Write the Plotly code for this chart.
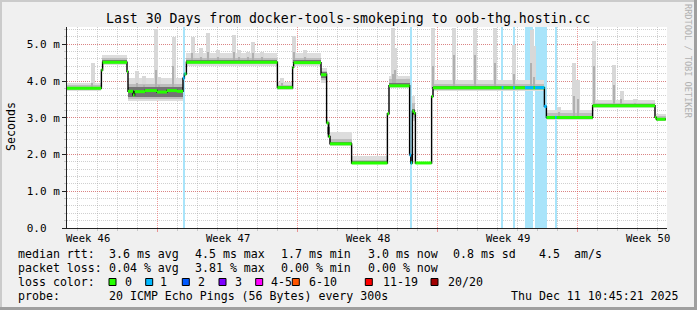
import plotly.graph_objects as go

# ---------------- data ----------------
# time = days since window start (Tue Nov 11 10:45:21 2025); values in ms (axis shows "m" = milli-seconds)
med_t = [0.00, 1.72, 1.78, 3.00, 3.05, 3.30, 3.38, 3.90, 4.50, 5.00, 5.50, 5.80, 5.87, 5.97,
         10.52, 11.28, 11.33, 12.70, 12.98, 13.08, 13.15, 14.23, 16.02, 16.10, 17.13, 17.19,
         17.27, 17.35, 17.42, 18.23, 18.30, 23.87, 23.97, 26.28, 29.40, 29.47]
med_v = [3.80, 4.30, 4.51, 4.26, 3.72, 3.62, 3.71, 3.74, 3.70, 3.74, 3.72, 4.08, 4.19, 4.51,
         3.82, 4.37, 4.50, 4.17, 2.86, 2.49, 2.29, 1.77, 3.11, 3.87, 1.99, 1.77,
         3.18, 3.13, 1.77, 3.58, 3.82, 3.31, 3.01, 3.33, 3.01, 2.96]
med_loss = [0, 0, 0, 0, 0, 0, 0, 0, 0, 0, 0, 1, 0, 0,
            0, 0, 0, 0, 0, 0, 0, 0, 0, 0, 1, 0,
            0, 0, 0, 0, 0, 1, 0, 0, 0, 0]
med_end = 29.93

loss_t0 = [5.82, 17.15, 21.73, 22.30, 22.90, 23.40, 24.40]
loss_t1 = [5.92, 17.25, 21.82, 22.40, 23.32, 23.98, 24.48]

smk_t0 = [0.00, 1.75, 3.05, 5.97, 10.55, 11.30, 12.70, 12.98, 13.15, 14.25, 16.10, 17.27, 18.30, 23.97, 26.28, 29.47]
smk_t1 = [1.72, 3.00, 5.80, 10.52, 11.28, 12.70, 12.98, 13.15, 14.23, 16.02, 17.13, 17.42, 23.87, 26.28, 29.40, 29.93]
light_lo = [3.74, 4.44, 3.45, 4.42, 3.75, 4.42, 3.95, 2.45, 2.24, 1.73, 3.80, 2.90, 3.72, 2.94, 3.27, 2.90]
light_hi = [3.95, 4.72, 4.08, 4.75, 3.98, 4.75, 4.35, 2.95, 2.60, 1.95, 4.15, 3.60, 4.02, 3.22, 3.47, 3.10]
mid_lo = [3.76, 4.46, 3.50, 4.45, 3.77, 4.45, 4.02, 2.50, 2.26, 1.75, 3.83, 3.00, 3.75, 2.96, 3.29, 2.92]
mid_hi = [3.88, 4.62, 3.92, 4.62, 3.90, 4.62, 4.28, 2.85, 2.42, 1.86, 4.05, 3.40, 3.92, 3.12, 3.40, 3.04]
dark_lo = [3.78, 4.48, 3.56, 4.48, 3.79, 4.48, 4.08, 2.55, 2.27, 1.76, 3.85, 3.08, 3.78, 2.98, 3.30, 2.93]
dark_hi = [3.84, 4.56, 3.84, 4.56, 3.86, 4.56, 4.24, 2.75, 2.35, 1.82, 3.95, 3.25, 3.87, 3.06, 3.37, 3.00]

spk_t = [1.28, 3.50, 3.85, 4.44, 4.62, 5.33, 6.28, 6.70, 7.07, 7.57, 8.34, 8.60, 9.07, 9.32, 9.74,
         10.75, 11.35, 11.90, 16.30, 16.42, 17.07, 18.32, 19.35, 20.40, 21.40, 22.35, 23.23, 23.35,
         24.60, 25.35, 25.57, 26.35, 27.35, 27.73, 28.40]
spk_top = [4.49, 4.26, 4.15, 5.42, 4.10, 5.21, 5.21, 4.90, 5.30, 4.85, 5.25, 4.85, 4.80, 5.07, 4.80,
           4.08, 5.23, 4.85, 5.44, 4.90, 4.08, 5.44, 5.44, 5.44, 5.44, 4.99, 5.39, 4.94,
           3.30, 4.49, 4.03, 5.08, 4.44, 3.72, 3.50]
spk_core = [3.95, 3.95, 3.90, 4.30, 3.90, 4.40, 4.75, 4.65, 4.80, 4.65, 4.80, 4.65, 4.65, 4.75, 4.65,
            3.95, 4.80, 4.65, 4.20, 4.30, 3.95, 4.40, 4.70, 4.70, 4.50, 4.20, 4.50, 4.10,
            3.15, 3.60, 3.50, 4.40, 3.90, 3.50, 3.40]

y_tick_vals = [0, 1, 2, 3, 4, 5]
y_tick_text = ["0.0\u00a0\u00a0", "1.0 m", "2.0 m", "3.0 m", "4.0 m", "5.0 m"]
week_labels = ["Week 46", "Week 47", "Week 48", "Week 49", "Week 50"]
week_pos = [1.045, 8.045, 15.045, 22.045, 29.045]
day_grid_start = 0.535
week_grid_start = 4.535

loss_names = ["0", "1", "2", "3", "4-5", "6-10", "11-19", "20/20"]
loss_colors = ["#26ff00", "#00b8ff", "#0059ff", "#7e00ff", "#ff00ff", "#ff5500", "#ff0000", "#a10000"]

title = "Last 30 Days from docker-tools-smokeping to oob-thg.hostin.cc"
row1 = ["median rtt:", "3.6 ms avg", "4.5 ms max", "1.7 ms min", "3.0 ms now", "0.8 ms sd", "4.5", "am/s"]
row2 = ["packet loss:", "0.04 % avg", "3.81 % max", "0.00 % min", "0.00 % now"]
row4 = ["probe:", "20 ICMP Echo Pings (56 Bytes) every 300s"]
stamp = "Thu Dec 11 10:45:21 2025"

# ---------------- layout constants ----------------
W, H = 697, 310
ML, MR, MT, MB = 67, 30, 27, 82
PW, PH = W - ML - MR, H - MT - MB
YMAX = 5.47
XMAX = 30.0
MONO = "DejaVu Sans Mono"
LOSS_BG = "#a8e4fa"


def px(x):
    return (x - ML) / PW


def py(y):
    return (MT + PH - y) / PH


def med_at(t):
    v = med_v[0]
    for tt, vv in zip(med_t, med_v):
        if tt <= t:
            v = vv
    return v


fig = go.Figure()


def add_bars(t0, t1, lo, hi, color):
    fig.add_trace(go.Bar(
        x=[(a + b) / 2 for a, b in zip(t0, t1)],
        width=[b - a for a, b in zip(t0, t1)],
        base=lo,
        y=[h - l for l, h in zip(lo, hi)],
        marker=dict(color=color, line=dict(width=0)),
        hoverinfo="skip", showlegend=False))


# loss background bands
add_bars(loss_t0, loss_t1, [0] * len(loss_t0), [YMAX] * len(loss_t0), LOSS_BG)

# smoke
add_bars(smk_t0, smk_t1, light_lo, light_hi, "#dddddd")
add_bars([t - 0.1 for t in spk_t], [t + 0.1 for t in spk_t], [med_at(t) for t in spk_t], spk_top, "#d8d8d8")
add_bars(smk_t0, smk_t1, mid_lo, mid_hi, "#bdbdbd")
add_bars([t - 0.04 for t in spk_t], [t + 0.04 for t in spk_t], [med_at(t) for t in spk_t], spk_core, "#b0b0b0")
add_bars(smk_t0, smk_t1, dark_lo, dark_hi, "#747474")

# black connecting median line
fig.add_trace(go.Scatter(x=med_t + [med_end], y=med_v + [med_v[-1]], mode="lines",
                         line=dict(color="#000000", width=1.4, shape="hv"),
                         hoverinfo="skip", showlegend=False))

# coloured median segments
ends = med_t[1:] + [med_end]
for flag, col in [(0, loss_colors[0]), (1, loss_colors[1])]:
    xs, ys = [], []
    for t0, t1, v, f in zip(med_t, ends, med_v, med_loss):
        if f == flag:
            xs += [t0, t1, None]
            ys += [v, v, None]
    if flag == 1:
        for b0, b1 in zip(loss_t0, loss_t1):
            cuts = [b0] + [t for t in med_t if b0 < t < b1] + [min(b1, med_end)]
            for a, b in zip(cuts[:-1], cuts[1:]):
                xs += [a, b, None]
                ys += [med_at(a), med_at(a), None]
    fig.add_trace(go.Scatter(x=xs, y=ys, mode="lines", line=dict(color=col, width=3),
                             hoverinfo="skip", showlegend=False))

grid_grey = "rgba(150,150,150,0.45)"
grid_red = "rgba(225,70,70,0.55)"

fig.update_layout(
    width=W, height=H, margin=dict(l=ML, r=MR, t=MT, b=MB, pad=0),
    paper_bgcolor="#f0f0f0", plot_bgcolor="#ffffff",
    barmode="overlay", bargap=0, showlegend=False,
    font=dict(family=MONO, color="#000000"),
    xaxis=dict(range=[0, XMAX], tickmode="linear", tick0=week_grid_start, dtick=7,
               showgrid=True, gridcolor=grid_red, griddash="1px,1px", gridwidth=1,
               showticklabels=False, ticks="outside", ticklen=3, tickcolor=grid_red,
               showline=True, linecolor="#222222", linewidth=1, zeroline=False, fixedrange=True,
               minor=dict(tick0=day_grid_start, dtick=1, showgrid=True, gridcolor=grid_grey,
                          griddash="1px,1px", ticks="outside", ticklen=2, tickcolor=grid_grey)),
    yaxis=dict(range=[0, YMAX], tickmode="array", tickvals=y_tick_vals, ticktext=y_tick_text,
               showgrid=True, gridcolor=grid_red, griddash="1px,1px", gridwidth=1,
               ticks="outside", ticklen=4, tickcolor="#222222",
               tickfont=dict(family=MONO, size=11, color="#000000"),
               showline=True, linecolor="#222222", linewidth=1, zeroline=False, fixedrange=True,
               minor=dict(tick0=0, dtick=0.2, showgrid=True, gridcolor=grid_grey,
                          griddash="1px,1px", ticks="outside", ticklen=2, tickcolor=grid_grey)),
)

shapes = []
# axis arrows
shapes.append(dict(type="path", xref="x", yref="y", xsizemode="pixel", ysizemode="pixel",
                   xanchor=0, yanchor=YMAX, path="M-3,0 L3,0 L0,5 Z",
                   fillcolor="#8b1a1a", line=dict(width=0), layer="above"))
shapes.append(dict(type="path", xref="x", yref="y", xsizemode="pixel", ysizemode="pixel",
                   xanchor=XMAX, yanchor=0, path="M0,-3 L0,3 L6,0 Z",
                   fillcolor="#8b1a1a", line=dict(width=0), layer="above"))
# image frame
frame = [(0, 0, 2, H, "#cbcbcb"), (0, 0, W, 2, "#cbcbcb"),
         (W - 3, 0, W, H, "#9f9f9f"), (0, H - 3, W, H, "#9f9f9f")]
for x0, y0, x1, y1, c in frame:
    shapes.append(dict(type="rect", xref="paper", yref="paper", x0=px(x0), x1=px(x1),
                       y0=py(y0), y1=py(y1), fillcolor=c, line=dict(width=0), layer="above"))
# loss colour swatches
box_x = [109, 145.7, 182.3, 219, 255.7, 292.3, 365.3, 431]
lab_x = [122.5, 158.3, 196, 233.3, 269.3, 306.7, 380.7, 445.7]
for bx, c in zip(box_x, loss_colors):
    shapes.append(dict(type="rect", xref="paper", yref="paper", x0=px(bx), x1=px(bx + 7),
                       y0=py(278.5), y1=py(285.5), fillcolor=c,
                       line=dict(color="#000000", width=1), layer="above"))
fig.update_layout(shapes=shapes)

ann = []
ann.append(dict(text=title, x=px(348), y=py(19), xref="paper", yref="paper",
                xanchor="center", yanchor="middle", showarrow=False,
                font=dict(family=MONO, size=13.2, color="#000000")))
ann.append(dict(text="Seconds", x=px(11), y=py(127), xref="paper", yref="paper",
                xanchor="center", yanchor="middle", showarrow=False, textangle=-90,
                font=dict(family=MONO, size=11.6, color="#000000")))
ann.append(dict(text="RRDTOOL / TOBI OETIKER", x=px(688), y=py(61), xref="paper", yref="paper",
                xanchor="center", yanchor="middle", showarrow=False, textangle=90,
                font=dict(family=MONO, size=8.6, color="#b0b0b0")))
for lab, pos in zip(week_labels, week_pos):
    ann.append(dict(text=lab, x=pos, y=py(237.5), xref="x", yref="paper",
                    xanchor="center", yanchor="middle", showarrow=False,
                    font=dict(family=MONO, size=10.5, color="#000000")))

LEG = 11.6
row_x = [16, 107.3, 192.7, 279.3, 365.7, 451, 536.7, 571.7]
for items, yy in [(row1, 254.3), (row2, 267.8), (row4, 296)]:
    for txt, xx in zip(items, row_x):
        ann.append(dict(text=txt, x=px(xx), y=py(yy), xref="paper", yref="paper",
                        xanchor="left", yanchor="middle", showarrow=False,
                        font=dict(family=MONO, size=LEG, color="#000000")))
ann.append(dict(text="loss color:", x=px(16), y=py(282.2), xref="paper", yref="paper",
                xanchor="left", yanchor="middle", showarrow=False,
                font=dict(family=MONO, size=LEG, color="#000000")))
for txt, xx in zip(loss_names, lab_x):
    ann.append(dict(text=txt, x=px(xx), y=py(282.2), xref="paper", yref="paper",
                    xanchor="left", yanchor="middle", showarrow=False,
                    font=dict(family=MONO, size=LEG, color="#000000")))
ann.append(dict(text=stamp, x=px(680.5), y=py(296), xref="paper", yref="paper",
                xanchor="right", yanchor="middle", showarrow=False,
                font=dict(family=MONO, size=LEG, color="#000000")))
fig.update_layout(annotations=ann)

fig.write_html("out.html")
